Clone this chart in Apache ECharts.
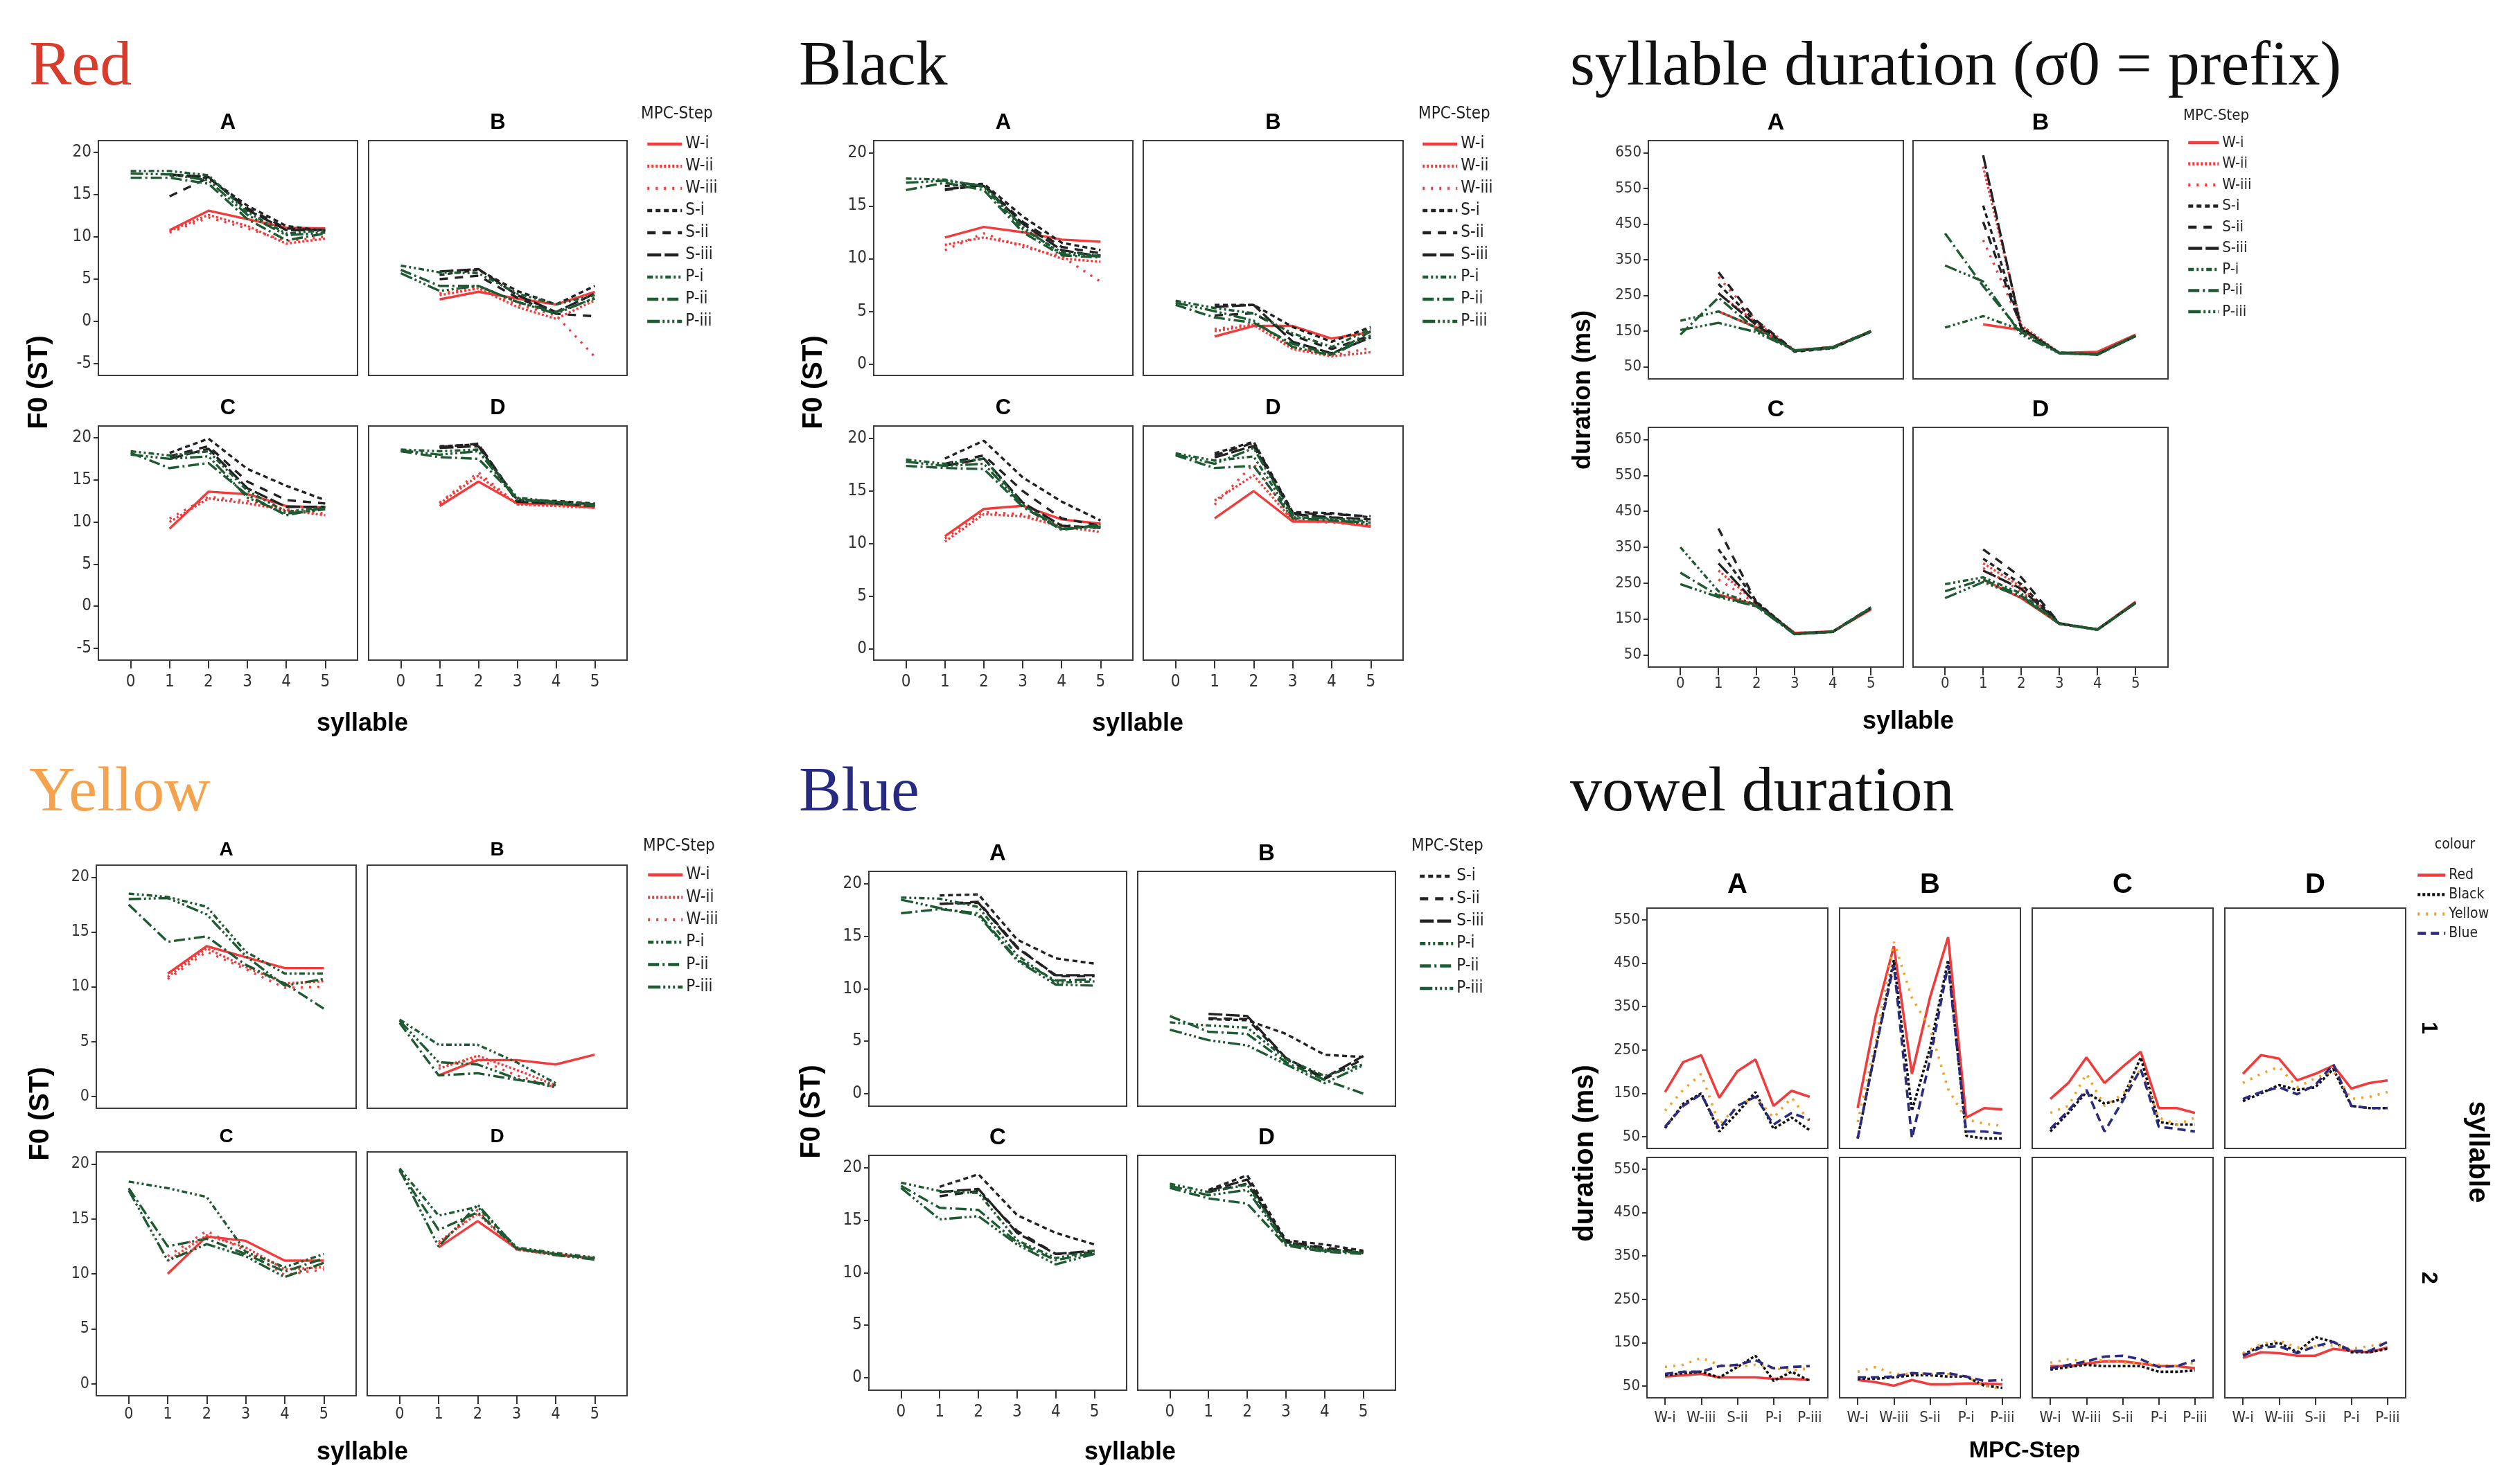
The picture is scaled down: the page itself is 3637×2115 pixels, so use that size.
<!DOCTYPE html>
<html>
<head>
<meta charset="utf-8">
<script src="https://cdn.jsdelivr.net/npm/echarts@6/dist/echarts.min.js"></script>
<style>
  html, body { margin: 0; padding: 0; background: #fff; }
  #main { width: 3637px; height: 2115px; }
</style>
</head>
<body>
<div id="main"></div>
<script>
// ---- categories / ticks ----
const syllables = [0, 1, 2, 3, 4, 5];
const stepsAll = ['W-i', 'W-ii', 'W-iii', 'S-i', 'S-ii', 'S-iii', 'P-i', 'P-ii', 'P-iii'];
const stepsYellow = ['W-i', 'W-ii', 'W-iii', 'P-i', 'P-ii', 'P-iii'];
const stepsBlue = ['S-i', 'S-ii', 'S-iii', 'P-i', 'P-ii', 'P-iii'];
const colours = ['Red', 'Black', 'Yellow', 'Blue'];
const stepIndex = [0, 1, 2, 3, 4, 5, 6, 7, 8];
const f0TicksNeg = [-5, 0, 5, 10, 15, 20];
const f0Ticks = [0, 5, 10, 15, 20];
const durTicks = [50, 150, 250, 350, 450, 550, 650];
const vowelTicks = [50, 150, 250, 350, 450, 550];
const vowelStepTicks = [0, 2, 4, 6, 8];

// ---- F0 (ST), rows follow the step lists, columns = syllable 0..5 ----
const redA = [
  [null, 10.8, 13.1, 12.1, 11.1, 11.0],
  [null, 10.7, 12.6, 11.3, 9.2, 9.8],
  [null, 10.5, 12.3, 11.0, 9.5, 10.0],
  [null, 17.3, 17.0, 13.7, 11.3, 10.7],
  [null, 14.8, 17.0, 13.4, 11.0, 10.8],
  [null, 17.4, 17.1, 13.2, 10.8, 10.8],
  [17.8, 17.8, 17.3, 12.9, 10.4, 10.8],
  [17.0, 17.0, 16.3, 12.1, 9.6, 10.4],
  [17.5, 17.4, 16.7, 12.6, 10.2, 10.5]
];
const redB = [
  [null, 2.6, 3.5, 2.7, 2.0, 3.5],
  [null, 3.1, 3.9, 1.7, 0.3, 2.5],
  [null, 3.3, 4.0, 2.0, 0.7, -4.2],
  [null, 5.5, 6.1, 3.6, 2.0, 4.2],
  [null, 5.0, 5.4, 2.8, 0.9, 0.6],
  [null, 5.9, 6.2, 3.1, 1.1, 3.3],
  [6.6, 5.8, 5.7, 3.3, 2.0, 3.1],
  [6.1, 4.2, 4.2, 2.3, 1.1, 2.7],
  [5.7, 3.6, 4.2, 2.3, 0.9, 2.8]
];
const redC = [
  [null, 9.2, 13.6, 13.3, 11.9, 11.7],
  [null, 10.0, 12.8, 12.2, 11.4, 10.8],
  [null, 10.4, 13.0, 12.5, 11.5, 11.0],
  [null, 18.2, 19.9, 16.3, 14.3, 12.6],
  [null, 17.8, 19.0, 14.8, 12.6, 12.2],
  [null, 17.5, 18.7, 14.0, 11.8, 11.8],
  [18.4, 17.9, 18.4, 13.7, 11.2, 11.8],
  [18.2, 16.4, 17.0, 13.2, 10.8, 11.7],
  [18.0, 17.5, 17.8, 12.9, 11.0, 11.5]
];
const redD = [
  [null, 11.9, 14.8, 12.2, 12.1, 11.7],
  [null, 12.2, 15.5, 12.1, 11.9, 11.7],
  [null, 12.3, 15.9, 12.1, 12.0, 11.8],
  [null, 19.0, 19.2, 12.6, 12.5, 12.2],
  [null, 18.9, 19.3, 12.5, 12.4, 12.1],
  [null, 18.8, 19.0, 12.4, 12.2, 11.9],
  [18.6, 18.4, 18.6, 12.9, 12.4, 12.1],
  [18.4, 17.7, 17.5, 12.8, 12.2, 11.9],
  [18.5, 18.0, 18.4, 12.6, 12.4, 12.1]
];
const blackA = [
  [null, 12.0, 13.0, 12.5, 11.8, 11.6],
  [null, 11.3, 12.0, 11.3, 10.0, 9.7],
  [null, 10.8, 12.4, 11.1, 10.2, 7.8],
  [null, 16.9, 17.1, 14.0, 11.5, 10.8],
  [null, 16.5, 17.0, 13.5, 11.1, 10.5],
  [null, 16.6, 16.9, 13.3, 10.8, 10.2],
  [17.6, 17.5, 16.8, 12.8, 10.6, 10.3],
  [16.5, 17.2, 16.5, 12.5, 10.3, 10.1],
  [17.2, 17.4, 16.9, 13.0, 10.4, 10.2]
];
const blackB = [
  [null, 2.6, 3.6, 3.6, 2.4, 3.0],
  [null, 3.1, 3.7, 1.4, 0.7, 1.1],
  [null, 3.3, 3.8, 1.6, 0.8, 1.5],
  [null, 5.6, 5.6, 3.5, 2.1, 3.5],
  [null, 4.6, 4.8, 2.7, 1.4, 2.7],
  [null, 5.4, 5.6, 2.1, 1.0, 2.5],
  [6.0, 5.3, 4.8, 2.9, 1.6, 3.3],
  [5.6, 4.4, 3.9, 1.9, 0.9, 3.1],
  [5.8, 5.0, 4.1, 1.6, 0.8, 2.7]
];
const blackC = [
  [null, 10.7, 13.3, 13.6, 12.3, 11.9],
  [null, 10.2, 12.8, 12.6, 11.6, 11.1],
  [null, 10.5, 13.0, 12.8, 11.8, 11.4],
  [null, 18.1, 19.8, 16.3, 14.0, 12.2],
  [null, 17.6, 18.4, 15.0, 12.4, 11.7],
  [null, 17.4, 18.1, 13.9, 11.7, 11.5],
  [18.0, 17.6, 18.1, 13.7, 11.4, 11.7],
  [17.4, 17.2, 17.1, 13.5, 11.3, 11.8],
  [17.8, 17.4, 17.6, 13.6, 11.4, 11.6]
];
const blackD = [
  [null, 12.4, 15.0, 12.1, 12.1, 11.6],
  [null, 14.1, 16.5, 12.2, 12.1, 11.7],
  [null, 13.7, 17.6, 12.2, 12.0, 11.7],
  [null, 18.6, 19.7, 13.0, 12.9, 12.5],
  [null, 18.4, 19.6, 12.9, 12.8, 12.6],
  [null, 18.2, 19.3, 12.8, 12.5, 12.3],
  [18.6, 17.9, 18.3, 12.5, 12.4, 12.1],
  [18.4, 17.2, 17.4, 12.4, 12.2, 12.0],
  [18.5, 17.6, 19.1, 12.7, 12.3, 11.8]
];
const yellowA = [
  [null, 11.2, 13.7, 12.7, 11.7, 11.7],
  [null, 10.9, 13.5, 11.8, 10.3, 10.5],
  [null, 10.7, 13.2, 11.6, 9.9, 10.0],
  [18.5, 18.2, 17.3, 13.2, 11.2, 11.2],
  [17.5, 14.1, 14.6, 12.0, 10.3, 8.0],
  [18.0, 18.1, 16.6, 12.8, 10.1, 10.7]
];
const yellowB = [
  [null, 1.9, 3.3, 3.3, 2.9, 3.8],
  [null, 2.5, 3.7, 2.4, 1.0, null],
  [null, 2.8, 3.4, 1.9, 0.8, null],
  [7.0, 4.7, 4.7, 3.1, 1.2, null],
  [6.7, 1.9, 2.1, 1.5, 1.0, null],
  [6.9, 3.1, 2.9, 1.6, 0.8, null]
];
const yellowC = [
  [null, 10.0, 13.4, 13.0, 11.2, 11.2],
  [null, 11.2, 13.5, 12.4, 10.4, 10.6],
  [null, 11.6, 13.9, 12.1, 9.9, 10.4],
  [18.4, 17.8, 17.0, 12.0, 10.6, 11.8],
  [17.8, 12.5, 13.2, 11.8, 10.2, 11.4],
  [17.6, 11.2, 12.7, 11.6, 9.7, 11.0]
];
const yellowD = [
  [null, 12.4, 14.8, 12.3, 11.8, 11.4],
  [null, 12.9, 15.5, 12.2, 11.7, 11.4],
  [null, 12.7, 15.8, 12.2, 11.8, 11.3],
  [19.6, 15.3, 16.1, 12.4, 11.9, 11.5],
  [19.4, 14.0, 15.6, 12.3, 11.8, 11.4],
  [19.5, 12.5, 16.3, 12.3, 11.7, 11.3]
];
const blueA = [
  [null, 18.9, 19.0, 14.7, 12.9, 12.4],
  [null, 18.1, 18.3, 14.0, 11.2, 11.2],
  [null, 18.1, 18.2, 13.9, 11.3, 11.3],
  [18.7, 18.6, 17.8, 13.2, 10.6, 10.7],
  [17.2, 17.6, 17.2, 12.8, 10.8, 10.9],
  [18.5, 17.7, 17.0, 12.7, 10.4, 10.3]
];
const blueB = [
  [null, 7.1, 7.0, 5.7, 3.7, 3.5],
  [null, 7.2, 7.1, 3.3, 1.4, 3.3],
  [null, 7.6, 7.4, 3.4, 1.5, 3.6],
  [6.8, 6.5, 6.3, 3.3, 1.7, 2.8],
  [7.4, 5.9, 5.7, 3.0, 1.3, 0.0],
  [6.1, 5.1, 4.6, 2.8, 1.0, 2.7]
];
const blueC = [
  [null, 18.2, 19.4, 15.5, 13.8, 12.7],
  [null, 17.3, 17.8, 14.0, 11.8, 11.9],
  [null, 17.7, 18.0, 13.8, 11.8, 12.1],
  [18.6, 17.8, 17.6, 13.1, 11.4, 12.1],
  [18.3, 16.2, 16.0, 12.9, 11.2, 11.9],
  [18.1, 15.1, 15.4, 12.7, 10.8, 11.8]
];
const blueD = [
  [null, 17.9, 19.3, 13.1, 12.7, 12.1],
  [null, 17.7, 18.5, 13.0, 12.4, 12.0],
  [null, 17.8, 18.9, 12.9, 12.3, 11.9],
  [18.5, 17.7, 18.4, 12.8, 12.2, 11.9],
  [18.1, 17.1, 16.6, 12.6, 12.0, 11.8],
  [18.3, 17.4, 17.9, 12.7, 12.1, 11.9]
];

// ---- syllable duration (ms) ----
const sylA = [
  [null, 205, 160, 95, 105, 150],
  [null, 256, 173, 95, 105, 150],
  [null, 302, 179, 96, 106, 148],
  [null, 282, 173, 92, 102, 148],
  [null, 315, 179, 95, 105, 150],
  [null, 256, 166, 95, 104, 148],
  [179, 205, 160, 95, 102, 150],
  [140, 244, 153, 95, 105, 148],
  [153, 173, 147, 96, 104, 150]
];
const sylB = [
  [null, 169, 153, 89, 92, 140],
  [null, 611, 166, 89, 86, 137],
  [null, 405, 166, 89, 86, 137],
  [null, 502, 160, 88, 85, 137],
  [null, 456, 160, 88, 85, 137],
  [null, 643, 156, 89, 84, 136],
  [160, 192, 153, 90, 86, 138],
  [424, 276, 147, 88, 85, 137],
  [334, 289, 140, 88, 84, 136]
];
const sylC = [
  [null, 218, 189, 111, 115, 176],
  [null, 285, 195, 111, 115, 178],
  [null, 260, 192, 110, 115, 177],
  [null, 344, 198, 108, 114, 180],
  [null, 402, 195, 108, 115, 182],
  [null, 305, 192, 109, 114, 180],
  [350, 227, 189, 108, 115, 182],
  [279, 215, 185, 107, 115, 181],
  [247, 211, 185, 108, 114, 182]
];
const sylD = [
  [null, 260, 208, 137, 121, 198],
  [null, 305, 240, 137, 121, 196],
  [null, 292, 227, 136, 121, 195],
  [null, 318, 247, 138, 120, 195],
  [null, 344, 266, 138, 121, 196],
  [null, 285, 234, 137, 120, 195],
  [247, 266, 221, 137, 121, 195],
  [227, 260, 215, 136, 120, 194],
  [208, 253, 211, 137, 121, 195]
];

// ---- vowel duration (ms), rows = colours, columns = MPC steps ----
const vowel1A = [
  [153, 222, 238, 140, 201, 228, 121, 156, 142],
  [70, 126, 150, 62, 105, 153, 68, 94, 65],
  [110, 158, 195, 78, 121, 142, 94, 140, 84],
  [73, 121, 148, 68, 121, 142, 78, 105, 89]
];
const vowel1B = [
  [116, 329, 489, 195, 371, 510, 94, 116, 113],
  [46, 254, 457, 110, 254, 457, 52, 46, 46],
  [84, 270, 499, 370, 300, 160, 90, 80, 75],
  [46, 254, 446, 46, 228, 446, 62, 62, 57]
];
const vowel1C = [
  [137, 174, 233, 174, 211, 246, 116, 116, 105],
  [62, 105, 153, 126, 137, 233, 84, 78, 78],
  [105, 121, 195, 121, 148, 206, 94, 78, 94],
  [68, 110, 158, 62, 132, 206, 73, 68, 62]
];
const vowel1D = [
  [195, 238, 230, 180, 195, 214, 161, 174, 180],
  [132, 150, 169, 158, 164, 206, 121, 116, 116],
  [174, 195, 211, 164, 185, 201, 137, 142, 153],
  [137, 153, 164, 148, 169, 217, 121, 116, 116]
];
const vowel2A = [
  [72, 75, 78, 70, 70, 70, 67, 67, 64],
  [75, 80, 83, 70, 94, 120, 62, 83, 62],
  [94, 99, 115, 99, 94, 99, 91, 86, 91],
  [78, 83, 83, 96, 99, 110, 91, 94, 96]
];
const vowel2B = [
  [64, 59, 51, 64, 54, 54, 56, 56, 54],
  [67, 67, 70, 75, 75, 72, 72, 51, 46],
  [83, 94, 78, 78, 78, 78, 72, 51, 43],
  [70, 70, 72, 80, 78, 80, 72, 62, 64]
];
const vowel2C = [
  [96, 96, 102, 107, 107, 102, 96, 96, 91],
  [88, 94, 99, 96, 96, 96, 83, 83, 86],
  [104, 112, 107, 110, 104, 102, 99, 96, 104],
  [91, 99, 107, 118, 120, 112, 94, 96, 110]
];
const vowel2D = [
  [115, 128, 126, 120, 120, 136, 131, 128, 139],
  [123, 142, 150, 128, 163, 152, 128, 128, 136],
  [126, 147, 155, 139, 142, 144, 136, 142, 150],
  [120, 139, 142, 126, 142, 152, 131, 131, 152]
];

// ---- styles ----
const NARROW = "'Liberation Sans Narrow','DejaVu Sans Condensed',sans-serif";
const SANS = "'Liberation Sans',Arial,sans-serif";
const SERIF = "'Liberation Serif','Times New Roman',serif";
const RED = '#f03c3c', DARK = '#222222', GREEN = '#1e5a32';
const stepStyle = {
  'W-i':   { color: RED, type: 'solid' },
  'W-ii':  { color: RED, type: [3, 3] },
  'W-iii': { color: RED, type: [3, 9] },
  'S-i':   { color: DARK, type: [7, 5] },
  'S-ii':  { color: DARK, type: [12, 10] },
  'S-iii': { color: DARK, type: [20, 5] },
  'P-i':   { color: GREEN, type: [8, 4, 3, 4, 3, 4] },
  'P-ii':  { color: GREEN, type: [16, 5, 3, 5] },
  'P-iii': { color: GREEN, type: [18, 4, 3, 4, 3, 4, 3, 4] }
};
const colourStyle = {
  'Red':    { color: RED, type: 'solid' },
  'Black':  { color: '#111111', type: [4, 3] },
  'Yellow': { color: '#f5a023', type: [3, 9] },
  'Blue':   { color: '#2b2b80', type: [12, 7] }
};

const option = {
  animation: false,
  backgroundColor: '#ffffff',
  grid: [], xAxis: [], yAxis: [], series: [], legend: [], graphic: []
};

function text(str, x, y, font, color, align, rot) {
  option.graphic.push({
    type: 'text', x: x, y: y, rotation: rot || 0, silent: true,
    style: {
      text: str, font: font, fill: color || '#000',
      textAlign: align || 'center', textVerticalAlign: 'middle',
      align: align || 'center', verticalAlign: 'middle'
    }
  });
}

function addGrid(box, ax) {
  const g = option.grid.length;
  option.grid.push({
    left: box[0], top: box[1], width: box[2], height: box[3],
    show: true, borderColor: '#3c3c3c', borderWidth: 2, backgroundColor: '#fff',
    containLabel: false, outerBoundsMode: 'none'
  });
  option.xAxis.push({
    type: 'value', gridIndex: g, min: ax.xMin, max: ax.xMax,
    axisLine: { show: false, onZero: false },
    axisTick: { show: ax.showX, length: ax.xTickLen || 12, customValues: ax.xTicks, lineStyle: { color: '#333', width: 2 } },
    axisLabel: { show: ax.showX, customValues: ax.xTicks, margin: ax.xMargin, fontFamily: NARROW, fontSize: ax.fs, color: '#333', formatter: ax.xFmt || null },
    splitLine: { show: false }
  });
  option.yAxis.push({
    type: 'value', gridIndex: g, min: ax.yMin, max: ax.yMax,
    axisLine: { show: false, onZero: false },
    axisTick: { show: ax.showY, length: 7, customValues: ax.yTicks, lineStyle: { color: '#333', width: 2 } },
    axisLabel: { show: ax.showY, customValues: ax.yTicks, margin: 10, fontFamily: NARROW, fontSize: ax.fs, color: '#333' },
    splitLine: { show: false }
  });
  return g;
}

function addLine(name, g, xs, ys, st, w) {
  const data = [];
  ys.forEach(function (v, i) { if (v !== null) data.push([xs[i], v]); });
  option.series.push({
    type: 'line', name: name, xAxisIndex: g, yAxisIndex: g, data: data,
    symbol: 'none', silent: true, color: st.color,
    lineStyle: { color: st.color, width: w || 3.4, type: st.type },
    emphasis: { disabled: true }
  });
}

function addLegend(names, left, top, gap, iw, fs, title, titleX, titleY, titleAlign) {
  option.legend.push({
    orient: 'vertical', left: left, top: top, padding: 0, itemGap: gap,
    itemWidth: iw, itemHeight: fs, data: names, selectedMode: false,
    lineStyle: { width: 4.5 },
    itemStyle: { color: 'rgba(0,0,0,0)', borderWidth: 0, opacity: 0 },
    textStyle: { fontFamily: NARROW, fontSize: fs, lineHeight: fs, color: '#222' }
  });
  text(title, titleX, titleY, fs + 'px ' + NARROW, '#222', titleAlign || 'left');
}

// one small-multiple panel with A-D facets over syllables
function syllablePanel(p) {
  ['A', 'B', 'C', 'D'].forEach(function (k, j) {
    const box = p.boxes[j];
    const g = addGrid(box, {
      xMin: p.xRange[0], xMax: p.xRange[1], xTicks: syllables,
      yMin: p.yRange[0], yMax: p.yRange[1], yTicks: p.yTicks,
      showX: j >= 2, showY: j % 2 === 0, xMargin: p.xMargin, fs: p.fs
    });
    p.data[j].forEach(function (row, i) {
      addLine(p.names[i], g, syllables, row, stepStyle[p.names[i]]);
    });
    text(k, box[0] + box[2] / 2, box[1] - p.headDy, 'bold ' + p.headFs + 'px ' + SANS, '#000');
  });
  text(p.title, p.titlePos[0], p.titlePos[1], '92px ' + SERIF, p.titleColor, 'left');
  text(p.yName, p.yNamePos[0], p.yNamePos[1], 'bold ' + p.yNameFs + 'px ' + SANS, '#000', 'center', Math.PI / 2);
  text('syllable', p.xNamePos[0], p.xNamePos[1], 'bold 36px ' + SANS, '#000');
  addLegend(p.names, p.legend[0], p.legend[1], p.legend[2], p.legend[3], p.legend[4],
    'MPC-Step', p.legend[5], p.legend[6]);
}

syllablePanel({
  title: 'Red', titleColor: '#d83c2c', titlePos: [42, 98],
  boxes: [[142, 203, 374, 339], [532, 203, 373, 339], [142, 615, 374, 338], [532, 615, 373, 338]],
  data: [redA, redB, redC, redD], names: stepsAll,
  xRange: [-0.83, 5.83], yRange: [-6.4, 21.4], yTicks: f0TicksNeg, xMargin: 20, fs: 24,
  headDy: 26, headFs: 31,
  yName: 'F0 (ST)', yNamePos: [57, 552], yNameFs: 40, xNamePos: [523, 1045],
  legend: [932, 196, 8, 50, 24, 925, 165]
});
syllablePanel({
  title: 'Black', titleColor: '#111', titlePos: [1153, 98],
  boxes: [[1261, 203, 374, 339], [1650, 203, 375, 339], [1261, 615, 374, 338], [1650, 615, 375, 338]],
  data: [blackA, blackB, blackC, blackD], names: stepsAll,
  xRange: [-0.83, 5.83], yRange: [-1.1, 21.2], yTicks: f0Ticks, xMargin: 20, fs: 24,
  headDy: 26, headFs: 31,
  yName: 'F0 (ST)', yNamePos: [1175, 552], yNameFs: 40, xNamePos: [1642, 1045],
  legend: [2051, 196, 8, 50, 24, 2047, 165]
});
syllablePanel({
  title: 'syllable duration (σ0 = prefix)', titleColor: '#111', titlePos: [2266, 98],
  boxes: [[2379, 203, 368, 344], [2761, 203, 368, 344], [2379, 617, 368, 346], [2761, 617, 368, 346]],
  data: [sylA, sylB, sylC, sylD], names: stepsAll,
  xRange: [-0.84, 5.85], yRange: [16, 684], yTicks: durTicks, xMargin: 13, fs: 22,
  headDy: 25, headFs: 34,
  yName: 'duration (ms)', yNamePos: [2285, 563], yNameFs: 36, xNamePos: [2754, 1042],
  legend: [3156, 195, 8.5, 44, 22, 3151, 167]
});
syllablePanel({
  title: 'Yellow', titleColor: '#f4a24b', titlePos: [42, 1146],
  boxes: [[139, 1249, 375, 351], [530, 1249, 375, 351], [139, 1663, 375, 352], [530, 1663, 375, 352]],
  data: [yellowA, yellowB, yellowC, yellowD], names: stepsYellow,
  xRange: [-0.83, 5.83], yRange: [-1.1, 21.1], yTicks: f0Ticks, xMargin: 16, fs: 23,
  headDy: 22, headFs: 28,
  yName: 'F0 (ST)', yNamePos: [59, 1608], yNameFs: 40, xNamePos: [523, 2097],
  legend: [933, 1251, 8.4, 50, 24, 928, 1222]
});
syllablePanel({
  title: 'Blue', titleColor: '#262a80', titlePos: [1153, 1146],
  boxes: [[1254, 1258, 372, 339], [1642, 1258, 372, 339], [1254, 1668, 372, 339], [1642, 1668, 372, 339]],
  data: [blueA, blueB, blueC, blueD], names: stepsBlue,
  xRange: [-0.83, 5.83], yRange: [-1.2, 21.2], yTicks: f0Ticks, xMargin: 20, fs: 24,
  headDy: 25, headFs: 33,
  yName: 'F0 (ST)', yNamePos: [1172, 1605], yNameFs: 40, xNamePos: [1631, 2097],
  legend: [2047, 1253, 8.4, 48, 24, 2037, 1222]
});

// ---- vowel duration: 2 rows (syllable 1, 2) x 4 facets ----
const vowelCols = [2377, 2655, 2933, 3211];
const vowelRows = [1311, 1671];
const vowelData = [[vowel1A, vowel1B, vowel1C, vowel1D], [vowel2A, vowel2B, vowel2C, vowel2D]];
vowelRows.forEach(function (top, r) {
  vowelCols.forEach(function (left, c) {
    const g = addGrid([left, top, 261, 347], {
      xMin: -1, xMax: 9, xTicks: vowelStepTicks, xTickLen: 10,
      xFmt: function (v) { return stepsAll[v]; },
      yMin: 23, yMax: 577, yTicks: vowelTicks,
      showX: r === 1, showY: c === 0, xMargin: 18, fs: 22
    });
    vowelData[r][c].forEach(function (row, i) {
      addLine(colours[i], g, stepIndex, row, colourStyle[colours[i]], 3.6);
    });
    if (r === 0) text(['A', 'B', 'C', 'D'][c], left + 130.5, 1278, 'bold 40px ' + SANS, '#000');
  });
});
text('vowel duration', 2266, 1146, '92px ' + SERIF, '#111', 'left');
text('duration (ms)', 2288, 1665, 'bold 40px ' + SANS, '#000', 'center', Math.PI / 2);
text('MPC-Step', 2922, 2095, 'bold 34px ' + SANS, '#000');
text('1', 3505, 1484, 'bold 32px ' + SANS, '#000', 'center', -Math.PI / 2);
text('2', 3505, 1845, 'bold 32px ' + SANS, '#000', 'center', -Math.PI / 2);
text('syllable', 3575, 1663, 'bold 40px ' + SANS, '#000', 'center', -Math.PI / 2);
addLegend(colours, 3487, 1253, 7, 40, 21, 'colour', 3543, 1220, 'center');

const chart = echarts.init(document.getElementById('main'));
chart.setOption(option);
</script>
</body>
</html>
